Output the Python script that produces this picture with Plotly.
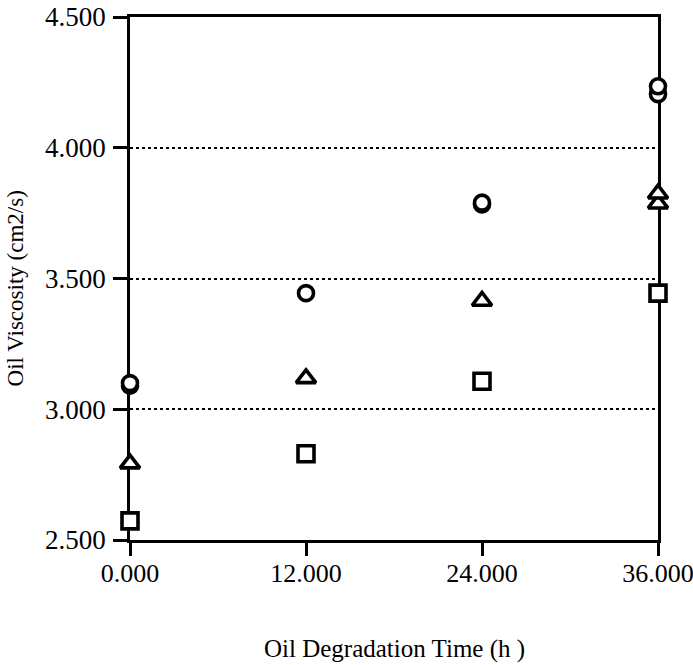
import plotly.graph_objects as go

# Degradation time (h)
time_h = [0, 12, 24, 36]

# Viscosity readings (cm2/s); repeated measurements plotted as separate points
circle_x = [0, 0, 12, 24, 24, 36, 36]
circle_y = [3.09, 3.10, 3.444, 3.783, 3.790, 4.205, 4.235]

triangle_x = [0, 12, 24, 36, 36]
triangle_y = [2.792, 3.118, 3.414, 3.786, 3.824]

square_x = [0, 12, 24, 36]
square_y = [2.573, 2.830, 3.107, 3.444]

y_ticks = [2.5, 3.0, 3.5, 4.0, 4.5]
y_tick_labels = ["2.500", "3.000", "3.500", "4.000", "4.500"]
x_tick_labels = ["0.000", "12.000", "24.000", "36.000"]

serif = "Liberation Serif, Times New Roman, serif"

fig = go.Figure()

def add_series(xs, ys, symbol, size):
    fig.add_trace(go.Scatter(
        x=xs, y=ys, mode="markers", cliponaxis=False, showlegend=False,
        marker=dict(symbol=symbol, size=size, color="white",
                    line=dict(color="black", width=3.6)),
    ))

add_series(square_x, square_y, "square", 16)
add_series(triangle_x, triangle_y, "triangle-up", 17)
add_series(circle_x, circle_y, "circle", 15)

fig.update_layout(
    width=693, height=665,
    margin=dict(l=130, r=35, t=17, b=125),
    paper_bgcolor="white", plot_bgcolor="white",
    font=dict(family=serif, color="black", size=24),
    xaxis=dict(
        range=[0, 36], tickvals=time_h, ticktext=x_tick_labels,
        showgrid=False, zeroline=False, automargin=False,
        showline=True, linecolor="black", linewidth=2.5, mirror=True,
        ticks="outside", ticklen=13, tickwidth=2.5, tickcolor="black",
        tickfont=dict(family=serif, size=26), ticklabelstandoff=-5,
        ticklabeloverflow="allow",
        layer="below traces",
    ),
    yaxis=dict(
        range=[2.5, 4.5], tickvals=y_ticks, ticktext=y_tick_labels,
        showgrid=True, gridcolor="black", griddash="dot", gridwidth=2,
        zeroline=False, automargin=False,
        showline=True, linecolor="black", linewidth=2.5, mirror=True,
        ticks="outside", ticklen=14, tickwidth=2.5, tickcolor="black",
        tickfont=dict(family=serif, size=27), ticklabelstandoff=2,
        ticklabeloverflow="allow",
        layer="below traces",
    ),
    annotations=[
        dict(text="Oil Degradation Time (h )", xref="paper", yref="paper",
             x=0.5, y=0, yshift=-109, xanchor="center", yanchor="middle",
             showarrow=False, font=dict(family=serif, size=25)),
        dict(text="Oil Viscosity (cm2/s)", xref="paper", yref="paper",
             x=0, y=0.481, xshift=-115, xanchor="center", yanchor="middle",
             textangle=-90, showarrow=False, font=dict(family=serif, size=23)),
    ],
)

fig.write_html("out.html")
